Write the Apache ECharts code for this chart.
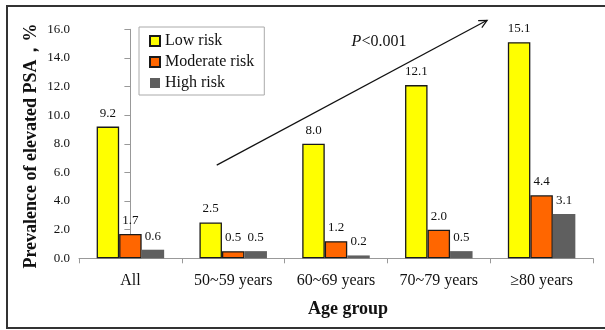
<!DOCTYPE html>
<html>
<head>
<meta charset="utf-8">
<script src="https://cdn.jsdelivr.net/npm/echarts@6/dist/echarts.min.js"></script>
<style>
html,body{margin:0;padding:0;background:#fff;}
#chart{width:605px;height:330px;}
</style>
</head>
<body>
<div id="chart"></div>
<script>
var categories = ['All', '50~59 years', '60~69 years', '70~79 years', '≥80 years'];
var lowRisk = [9.2, 2.5, 8.0, 12.1, 15.1];
var moderateRisk = [1.7, 0.5, 1.2, 2.0, 4.4];
var highRisk = [0.6, 0.5, 0.2, 0.5, 3.1];
var seriesNames = ['Low risk', 'Moderate risk', 'High risk'];
var yTicks = [0, 2, 4, 6, 8, 10, 12, 14, 16];
var trendStart = [0.84, 6.51];
var trendEnd = [3.47, 16.63];

var FONT = '"Liberation Serif", "Times New Roman", serif';
var chart = echarts.init(document.getElementById('chart'), null, {renderer: 'canvas'});

function barSeries(name, data, color, border) {
  return {
    name: name,
    type: 'bar',
    data: data,
    barWidth: 22.5,
    barGap: '0%',
    itemStyle: {
      color: color,
      borderColor: border ? '#1a1a1a' : color,
      borderWidth: border ? 1.3 : 0
    },
    label: {
      show: true,
      position: 'top',
      distance: 7,
      fontFamily: FONT,
      fontSize: 13,
      color: '#111',
      formatter: function (p) { return p.value.toFixed(1); }
    }
  };
}

var option = {
  backgroundColor: '#fff',
  animation: false,
  grid: {left: 79, right: 12, top: 29.3, bottom: 71.7, containLabel: false},
  legend: {
    data: seriesNames,
    orient: 'vertical',
    left: 139,
    top: 27,
    itemWidth: 10,
    itemHeight: 10,
    itemGap: 5,
    icon: 'rect',
    padding: [6, 10, 4, 10],
    borderColor: '#aaa',
    borderWidth: 1,
    textStyle: {fontFamily: FONT, fontSize: 16, color: '#111'}
  },
  xAxis: [{
    type: 'category',
    data: categories,
    axisLine: {lineStyle: {color: '#999', width: 1}},
    axisTick: {show: true, length: 5, lineStyle: {color: '#999'}},
    axisLabel: {fontFamily: FONT, fontSize: 16, color: '#111', margin: 14}
  }, {
    type: 'value',
    min: -0.5,
    max: 4.5,
    show: false
  }],
  yAxis: {
    type: 'value',
    min: yTicks[0],
    max: yTicks[yTicks.length - 1],
    interval: 2,
    splitLine: {show: false},
    axisLine: {show: true, lineStyle: {color: '#999', width: 1}},
    axisTick: {show: true, length: 6, lineStyle: {color: '#999'}},
    axisLabel: {fontFamily: FONT, fontSize: 13, color: '#111', margin: 9,
      formatter: function (v) { return v.toFixed(1); }}
  },
  series: [
    barSeries(seriesNames[0], lowRisk, '#FFFF00', true),
    barSeries(seriesNames[1], moderateRisk, '#FF6600', true),
    barSeries(seriesNames[2], highRisk, '#5F5F5F', false)
  ]
};
chart.setOption(option);

var p0 = chart.convertToPixel({xAxisIndex: 1, yAxisIndex: 0}, trendStart);
var p1 = chart.convertToPixel({xAxisIndex: 1, yAxisIndex: 0}, trendEnd);
var ang = Math.atan2(p1[1] - p0[1], p1[0] - p0[0]);
var headLen = 9, headAng = 0.45;
var h1 = [p1[0] - headLen * Math.cos(ang - headAng), p1[1] - headLen * Math.sin(ang - headAng)];
var h2 = [p1[0] - headLen * Math.cos(ang + headAng), p1[1] - headLen * Math.sin(ang + headAng)];

chart.setOption({
  graphic: [
    {type: 'rect', shape: {x: 7, y: 6, width: 640, height: 322}, style: {fill: 'none', stroke: '#333', lineWidth: 2}, silent: true, z: 100},
    {type: 'line', shape: {x1: p0[0], y1: p0[1], x2: p1[0], y2: p1[1]}, style: {stroke: '#111', lineWidth: 1.2}, z: 100},
    {type: 'polyline', shape: {points: [h1, p1, h2]}, style: {stroke: '#111', fill: 'none', lineWidth: 1.2}, z: 100},
    {type: 'text', x: 379, y: 42, style: {
      text: '{i|P}{n|<0.001}', align: 'center', verticalAlign: 'middle',
      rich: {i: {fontFamily: FONT, fontSize: 16, fontStyle: 'italic', fill: '#111'},
             n: {fontFamily: FONT, fontSize: 16, fill: '#111'}}
    }, z: 100},
    {type: 'text', x: 348, y: 309, style: {
      text: 'Age group', align: 'center', verticalAlign: 'middle',
      fontFamily: FONT, fontSize: 18, fontWeight: 'bold', fill: '#111'
    }, z: 100},
    {type: 'text', x: 31, y: 146, rotation: Math.PI / 2, style: {
      text: 'Prevalence of elevated PSA，%', align: 'center', verticalAlign: 'middle',
      fontFamily: FONT, fontSize: 18, fontWeight: 'bold', fill: '#111'
    }, z: 100}
  ]
});
</script>
</body>
</html>
